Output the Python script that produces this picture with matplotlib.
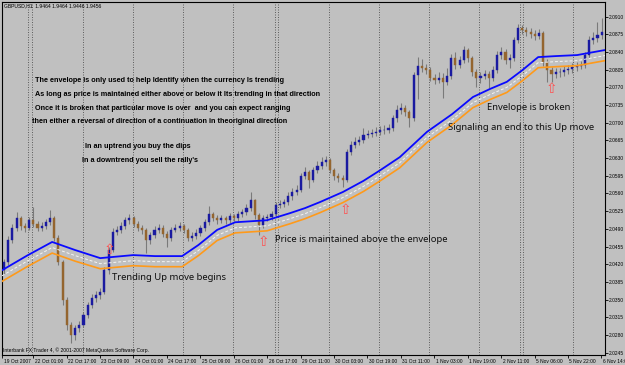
import matplotlib
matplotlib.use('Agg')
import matplotlib.pyplot as plt
from matplotlib.patches import Rectangle
from matplotlib.collections import LineCollection, PatchCollection
from matplotlib.transforms import ScaledTranslation

# ---------------- data (prices in pips above 2.0000, one candle = 2 H1 bars) ----------------
BASE = 2.0
open_pips = [408,424,468,492,511,495,492,507,499,492,
             495,503,511,472,424,349,300,280,294,300,
             319,339,353,359,365,408,448,484,488,495,
             507,511,499,492,488,468,478,488,492,480,
             472,488,492,495,488,472,476,482,492,503,
             519,511,507,511,507,515,511,519,523,531,
             547,517,497,511,513,519,537,539,543,555,
             563,567,594,602,587,606,614,622,626,606,
             594,591,587,642,656,662,666,676,678,680,
             682,686,686,690,709,725,729,721,709,794,
             812,808,804,789,785,789,781,792,828,814,
             824,844,828,800,789,792,796,789,804,834,
             840,824,828,864,888,884,880,876,872,878,
             820,804,796,800,800,804,806,810,812,814,
             834,864,868,874]
close_pips = [424,468,492,511,495,492,507,499,492,495,
              503,511,472,424,349,300,280,294,300,319,
              339,353,359,365,408,448,484,488,495,507,
              511,499,492,488,468,478,488,492,480,472,
              488,492,495,488,472,476,482,492,503,519,
              511,507,511,507,515,511,519,523,531,547,
              517,497,511,513,519,537,539,543,555,563,
              567,594,602,587,606,614,622,626,606,594,
              591,587,642,656,662,666,676,678,680,682,
              686,686,690,709,725,729,721,709,794,812,
              808,804,789,785,789,781,792,828,814,824,
              844,828,800,789,792,796,789,804,834,840,
              824,828,864,888,884,880,876,872,878,820,
              804,796,800,800,804,806,810,812,814,834,
              864,868,874,880]
high_pips = [430,475,500,523,515,502,514,533,505,503,
             510,527,515,478,428,355,306,300,308,325,
             346,360,366,372,414,455,492,496,503,513,
             519,515,505,498,492,484,495,500,497,486,
             494,499,503,500,492,484,490,498,510,535,
             524,517,518,515,522,520,526,530,540,563,
             550,521,517,520,526,543,547,550,562,571,
             576,600,612,606,612,624,632,634,630,610,
             600,596,648,664,672,674,690,686,688,692,
             694,696,698,716,735,740,736,726,800,830,
             826,816,810,796,800,798,808,836,840,832,
             852,848,832,806,800,804,802,812,842,850,
             846,836,870,895,893,890,888,884,886,882,
             826,810,808,808,812,814,818,820,822,840,
             872,880,900,907]
low_pips = [400,418,462,486,488,484,488,494,486,486,
            490,498,466,418,340,290,264,270,286,295,
            314,334,346,352,360,400,444,478,482,490,
            500,494,486,480,442,460,472,482,474,454,
            466,483,486,482,466,466,470,476,486,498,
            505,500,502,500,502,505,506,514,518,526,
            510,478,492,506,508,514,532,534,538,548,
            556,562,588,570,582,600,608,614,600,586,
            582,573,582,636,650,656,660,670,672,674,
            676,678,680,684,702,718,714,692,704,748,
            800,796,782,776,778,750,774,786,806,808,
            818,820,792,770,778,786,768,782,798,826,
            816,808,822,858,876,872,868,864,866,812,
            781,781,788,790,792,796,798,802,806,808,
            828,856,860,866]

# Envelope indicator (read at knots; position in candle units)
env_pos = [-0.5, 5.5, 11.5, 17.0, 23.0, 30.9, 36.1, 42.6, 46.5, 51.0, 55.3, 62.9, 68.4,
           72.0, 75.6, 81.1, 86.0, 90.0, 94.7, 101.2, 107.2, 112.2, 116.3, 120.3, 124.0,
           127.8, 132.0, 137.1, 143.8]
env_upper = [408, 437, 464, 448, 432, 438, 436, 436, 458, 488, 503, 507, 521,
             531, 543, 563, 585, 606, 632, 682, 717, 751, 767, 781, 804,
             830, 832, 834, 844]
env_mid = [397, 426, 453, 437, 421, 427, 425, 425, 447, 477, 492, 496, 510,
           520, 532, 552, 574, 595, 621, 671, 706, 740, 756, 770, 793,
           819, 821, 823, 833]
env_lower = [386, 415, 442, 426, 411, 417, 415, 415, 437, 467, 482, 486, 500,
             510, 522, 542, 564, 585, 611, 661, 696, 730, 746, 760, 783,
             809, 811, 813, 823]

# day separators (candle units)
day_sep = [5.7, 6.7, 18.9, 30.9, 42.8, 54.8, 64.8, 65.6, 77.8, 89.7, 101.7,
           113.6, 123.4, 124.2, 136.1]

# time axis
time_labels = ["19 Oct 2007", "22 Oct 01:00", "22 Oct 17:00", "23 Oct 09:00",
               "24 Oct 01:00", "24 Oct 17:00", "25 Oct 09:00", "26 Oct 01:00",
               "26 Oct 17:00", "29 Oct 11:00", "30 Oct 03:00", "30 Oct 19:00",
               "31 Oct 11:00", "1 Nov 03:00", "1 Nov 19:00", "2 Nov 11:00",
               "5 Nov 06:00", "5 Nov 22:00", "6 Nov 14:00"]
time_pos = [-0.45] + [6.94 + 8 * k for k in range(18)]

price_ticks = [2.0245 + 0.0035 * k for k in range(20)]

# arrows (candle position, price pips)
arrow_pos = [25.1, 62.0, 81.6, 130.9]
arrow_val = [448, 464, 527, 767]

# ---------------- figure ----------------
W, H = 625, 365
BG = '#C0C0C0'
fig = plt.figure(figsize=(W / 100, H / 100), dpi=100)
fig.patch.set_facecolor(BG)
ax = fig.add_axes([2 / W, 10 / H, 603 / W, 353 / H])
ax.set_facecolor(BG)

def p(v):
    return BASE + v / 10000.0

ax.set_xlim(-0.5, 143.8)
ax.set_ylim(2.02402, 2.09391)

for d in day_sep:
    ax.axvline(d, color='#505050', lw=0.6, ls=(0, (1.2, 1.8)), zorder=1)

# candles
wicks = []
bodies_up, bodies_dn = [], []
for i in range(len(close_pips)):
    o, c, h, l = p(open_pips[i]), p(close_pips[i]), p(high_pips[i]), p(low_pips[i])
    wicks.append([(i, l), (i, h)])
    bw = 0.5
    if c >= o:
        bodies_up.append(Rectangle((i - bw / 2, o), bw, max(c - o, 0.00004)))
    else:
        bodies_dn.append(Rectangle((i - bw / 2, c), bw, o - c))
ax.add_collection(LineCollection(wicks, colors='#7a7a7a', linewidths=0.8, zorder=2))
ax.add_collection(PatchCollection(bodies_up, facecolor='#1a1aa0', edgecolor='#1a1aa0',
                                  linewidth=0.3, zorder=3))
ax.add_collection(PatchCollection(bodies_dn, facecolor='#94652f', edgecolor='#94652f',
                                  linewidth=0.3, zorder=3))

# envelope
ax.plot(env_pos, [p(v) for v in env_lower], color='#ff9a1a', lw=1.2, zorder=4)
ax.plot(env_pos, [p(v) for v in env_mid], color='#f4f4f4', lw=0.7, ls=(0, (3, 2)), zorder=4)
ax.plot(env_pos, [p(v) for v in env_upper], color='#0a0aff', lw=1.3, zorder=4)

# arrows
for xa, ya in zip(arrow_pos, arrow_val):
    ax.text(xa, p(ya), '\u21e7', color='#ff5050', fontsize=10, ha='center', va='center',
            family='DejaVu Sans', zorder=6)

# axes styling
for s in ax.spines.values():
    s.set_color('black')
    s.set_linewidth(0.8)
ax.yaxis.tick_right()
ax.set_yticks(price_ticks)
ax.set_yticklabels(['%.4f' % t for t in price_ticks], family='Liberation Sans')
ax.tick_params(axis='y', direction='out', length=2, width=0.6, pad=0.6, labelsize=3.5,
               colors='black')
ax.set_xticks(time_pos)
ax.set_xticklabels(time_labels, family='Liberation Sans')
ax.tick_params(axis='x', direction='out', length=2.5, width=0.6, pad=0.6, labelsize=3.5,
               colors='black')
off = ScaledTranslation(1.5 / 100, 0, fig.dpi_scale_trans)
for lbl in ax.get_xticklabels():
    lbl.set_ha('left')
    lbl.set_transform(lbl.get_transform() + off)

# texts
def ftext(x, y, s, **kw):
    fig.text(x / W, 1 - y / H, s, va='center', ha='left', **kw)

tiny = dict(fontsize=3.6, color='black', family='Liberation Sans')
ftext(4, 6, "GBPUSD,H1  1.9464 1.9464 1.9446 1.9456", **tiny)
ftext(3, 350, "Interbank FX Trader 4, \u00a9 2001-2007 MetaQuotes Software Corp.", **tiny)

small = dict(fontsize=5.2, color='black', family='Liberation Sans', fontweight='bold')
ftext(35, 80, "The envelope is only used to help Identify when the currency Is trending", **small)
ftext(35, 94, "As long as price is maintained either above or below it Its trending in that direction", **small)
ftext(35, 108, "Once it is broken that particular move is over  and you can expect ranging", **small)
ftext(32, 122, "then either a reversal of direction of a continuation in theoriginal direction", **small)
ftext(85, 146, "In an uptrend you buy the dips", **small)
ftext(82, 160, "In a downtrend you sell the rally's", **small)

big = dict(fontsize=6.8, color='#101010', family='Noto Sans')
ftext(112, 277, "Trending Up move begins", **big)
ftext(275, 240, "Price is maintained above the envelope", **big)
ftext(487, 107, "Envelope is broken", **big)
ftext(448, 127, "Signaling an end to this Up move", **big)

fig.savefig('out.png', dpi=100, facecolor=BG)
